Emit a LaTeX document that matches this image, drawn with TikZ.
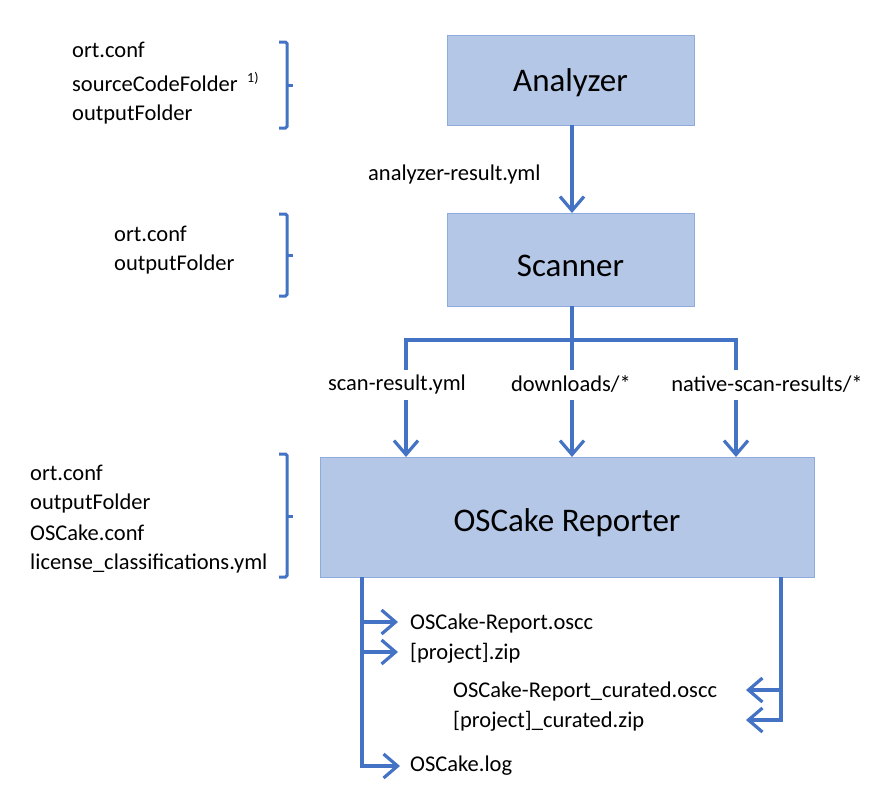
\documentclass[tikz,border=0pt]{standalone}
\usepackage{fontspec}
\setmainfont{Carlito}
\usetikzlibrary{arrows.meta}
\definecolor{boxfill}{HTML}{B4C7E7}
\definecolor{boxline}{HTML}{8FAADC}
\definecolor{arrblue}{HTML}{4472C4}
\begin{document}
\begin{tikzpicture}[x=1pt,y=-1pt,
  box/.style={draw=boxline,line width=1pt,fill=boxfill,inner sep=0pt},
  boxtext/.style={font=\fontsize{33}{40}\selectfont,inner sep=0pt},
  lbl/.style={font=\fontsize{22.5}{27}\selectfont,inner sep=0pt,anchor=west},
  clbl/.style={font=\fontsize{22.5}{27}\selectfont,inner sep=0pt},
  conn/.style={draw=arrblue,line width=3.2pt},
  arr/.style={conn,-{Straight Barb[length=14pt,width=24pt]}},
  brace/.style={draw=arrblue,line width=3pt,rounded corners=1.5pt}
]
\useasboundingbox (0,0) rectangle (884,790);

% boxes
\node[box,minimum width=247pt,minimum height=90pt] (an) at (570.5,80) {};
\node[boxtext] (ant) at (570.5,83) {Analyzer};
\node[box,minimum width=247pt,minimum height=93pt] (sc) at (570.5,259.5) {};
\node[boxtext] (sct) at (570.5,266) {Scanner};
\node[box,minimum width=494pt,minimum height=120pt] (rep) at (567,517) {};
\node[boxtext] (rept) at (567,523) {OSCake Reporter};

% left groups
\node[lbl] (a1) at (72,50) {ort.conf};
\node[lbl] (a2) at (72,84) {sourceCodeFolder};
\node[font=\fontsize{14}{16}\selectfont,inner sep=0pt,anchor=west] (a2s) at (247,78) {1)};
\node[lbl] (a3) at (72,114) {outputFolder};
\draw[brace] (279,42) -- (287,42) -- (287,128) -- (279,128);
\draw[brace] (287,85) -- (293,85);

\node[lbl] (s1) at (114,234) {ort.conf};
\node[lbl] (s2) at (114,264) {outputFolder};
\draw[brace] (279,214) -- (287,214) -- (287,296) -- (279,296);
\draw[brace] (287,255) -- (293,255);

\node[lbl] (r1) at (30,473) {ort.conf};
\node[lbl] (r2) at (30,503) {outputFolder};
\node[lbl] (r3) at (30,533) {OSCake.conf};
\node[lbl] (r4) at (30,563) {license\_classifications.yml};
\draw[brace] (279,454) -- (287,454) -- (287,577) -- (279,577);
\draw[brace] (287,516) -- (293,516);

% analyzer -> scanner
\node[lbl] (ar) at (368,174) {analyzer-result.yml};
\draw[arr] (572,125) -- (572,213);

% scanner fan out
\coordinate (j) at (572,340);
\coordinate (jl) at (406,340);
\coordinate (jr) at (736,340);
\draw[conn] (572,306) -- (j);
\draw[conn] (406,370) -- (jl) -- (jr) -- (736,370);
\draw[conn] (572,340) -- (572,370);
\node[clbl] (l1) at (397,384) {scan-result.yml};
\node[clbl] (l2) at (571,384) {downloads/*};
\node[clbl] (l3) at (767,384) {native-scan-results/*};
\draw[arr] (406,400) -- (406,457);
\draw[arr] (572,400) -- (572,457);
\draw[arr] (736,400) -- (736,457);

% outputs
\node[lbl] (o1) at (410,623) {OSCake-Report.oscc};
\node[lbl] (o2) at (410,653) {[project].zip};
\node[lbl] (o3) at (453,691) {OSCake-Report\_curated.oscc};
\node[lbl] (o4) at (453,721) {[project]\_curated.zip};
\node[lbl] (o5) at (410,766) {OSCake.log};

\coordinate (lt) at (362,577);
\coordinate (lb) at (362,766);
\draw[arr] (lt) -- (lb) -- ([xshift=-10pt]o5.west|-lb);
\draw[arr] (362,622) -- (398,622);
\draw[arr] (362,652) -- (398,652);

\coordinate (rt) at (781,577);
\coordinate (rb) at (781,720);
\draw[arr] (rt) -- (rb) -- (746,720);
\draw[arr] (781,690) -- (746,690);
\end{tikzpicture}
\end{document}
